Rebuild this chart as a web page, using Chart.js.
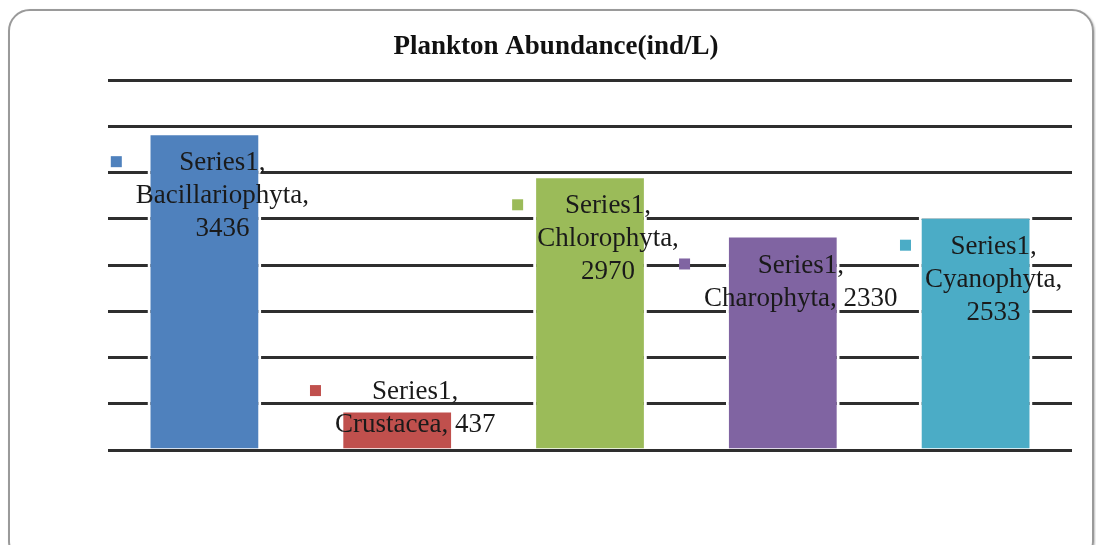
<!DOCTYPE html>
<html>
<head>
<meta charset="utf-8">
<script src="https://cdn.jsdelivr.net/npm/chart.js@4"></script>
<style>
  html, body { margin: 0; padding: 0; background: #fff; }
  #wrap { position: relative; width: 1096px; height: 545px; overflow: hidden; }
  #frame {
    position: absolute; left: 8px; top: 9px; width: 1082px; height: 550px;
    border: 2px solid #9a9a9a; border-radius: 22px;
    box-shadow: 1px 1px 2px rgba(0,0,0,0.25);
  }
  #chart { position: absolute; left: 0; top: 0; }
</style>
</head>
<body>
<div id="wrap">
  <div id="frame"></div>
  <canvas id="chart" width="1096" height="545"></canvas>
</div>
<script>
// Chart data
const categories = ['Bacillariophyta', 'Crustacea', 'Chlorophyta', 'Charophyta', 'Cyanophyta'];
const values = [3436, 437, 2970, 2330, 2533];
const barColors = ['#4F81BD', '#C0504D', '#9BBB59', '#8064A2', '#4BACC6'];
const seriesName = 'Series1';
// whether the value goes on its own line in the data label
const valueOnOwnLine = [true, false, true, false, true];
const yTicks = { min: 0, max: 4000, step: 500 };
const chartTitle = 'Plankton Abundance(ind/L)';

// title drawn at a fixed spot, like the original
const titlePlugin = {
    id: 'fixedTitle',
    afterDraw(chart) {
        const ctx = chart.ctx;
        ctx.save();
        ctx.font = 'bold 27px "Liberation Serif", "Times New Roman", serif';
        ctx.fillStyle = '#111';
        ctx.textAlign = 'center';
        ctx.textBaseline = 'middle';
        ctx.fillText(chartTitle, 556, 47);
        ctx.restore();
    }
};

// Excel-style data labels: "Series1, Category, value" with a legend key square
const dataLabelPlugin = {
    id: 'dataLabels',
    afterDatasetsDraw(chart) {
        const ctx = chart.ctx;
        const meta = chart.getDatasetMeta(0);
        const lineH = 33;
        ctx.save();
        ctx.font = '27px "Liberation Serif", "Times New Roman", serif';
        ctx.fillStyle = '#1a1a1a';
        ctx.textAlign = 'center';
        ctx.textBaseline = 'middle';

        meta.data.forEach((bar, i) => {
            const lines = valueOnOwnLine[i]
                ? [seriesName + ',', categories[i] + ',', String(values[i])]
                : [seriesName + ',', categories[i] + ', ' + values[i]];
            const cx = bar.x + 18;
            const blockH = lines.length * lineH;
            const barH = bar.base - bar.y;
            let firstY;
            if (barH > blockH + 30) {
                firstY = bar.y + 31;
            } else {
                firstY = bar.y - blockH / 2 + lineH / 2 - 1;
            }
            let widest = 0;
            lines.forEach((t, k) => {
                widest = Math.max(widest, ctx.measureText(t).width);
                ctx.fillText(t, cx, firstY + k * lineH);
            });
            // legend key
            const keyX = cx - widest / 2 - 25;
            ctx.fillStyle = barColors[i];
            ctx.fillRect(keyX, firstY - 7, 11, 11);
            ctx.fillStyle = '#1a1a1a';
        });
        ctx.restore();
    }
};

new Chart(document.getElementById('chart'), {
    type: 'bar',
    data: {
        labels: categories,
        datasets: [{
            label: seriesName,
            data: values,
            backgroundColor: barColors,
            borderColor: '#ffffff',
            borderWidth: 3,
            borderSkipped: 'bottom',
            barPercentage: 0.59,
            categoryPercentage: 1.0
        }]
    },
    options: {
        responsive: false,
        animation: false,
        layout: {
            padding: { left: 108, right: 24, top: 80, bottom: 95 }
        },
        scales: {
            x: {
                display: false
            },
            y: {
                min: yTicks.min,
                max: yTicks.max,
                ticks: {
                    display: false,
                    stepSize: yTicks.step
                },
                grid: {
                    color: '#2e2e2e',
                    lineWidth: 3,
                    drawTicks: false
                },
                border: { display: false }
            }
        },
        plugins: {
            legend: { display: false },
            title: { display: false },
            tooltip: { enabled: false }
        }
    },
    plugins: [titlePlugin, dataLabelPlugin]
});
</script>
</body>
</html>
